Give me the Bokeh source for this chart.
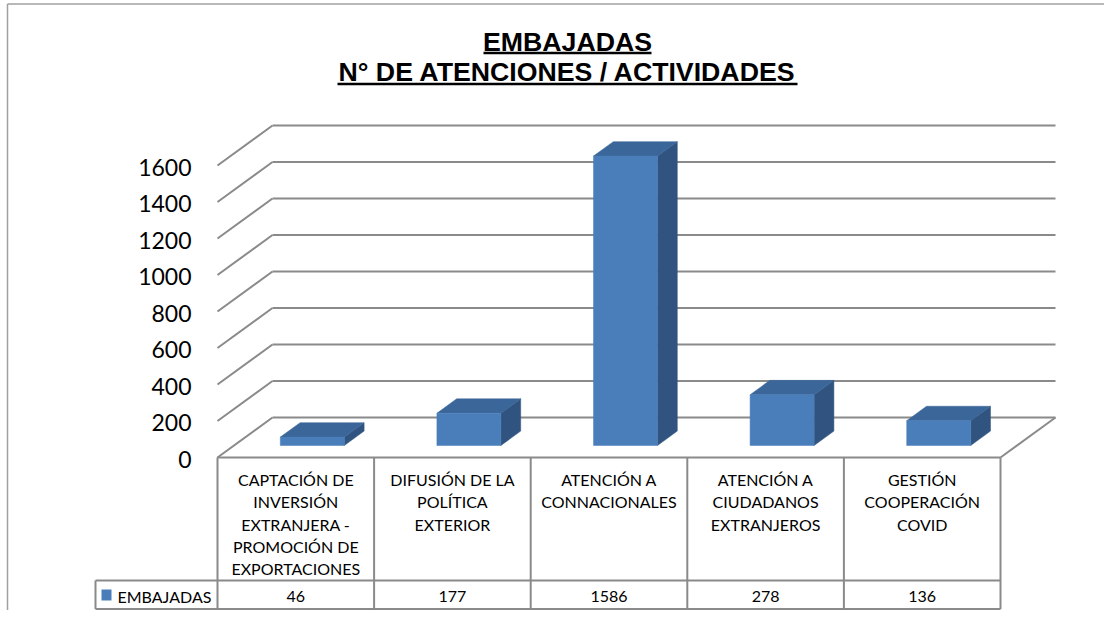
import numpy as np
from bokeh.plotting import figure
from bokeh.models import Range1d
from bokeh.embed import file_html
from bokeh.resources import INLINE
from bokeh.core.properties import value

# ---------------- data ----------------
title_lines = ["EMBAJADAS", "N° DE ATENCIONES / ACTIVIDADES"]
categories = [
    "CAPTACIÓN DE\nINVERSIÓN\nEXTRANJERA -\nPROMOCIÓN DE\nEXPORTACIONES",
    "DIFUSIÓN DE LA\nPOLÍTICA\nEXTERIOR",
    "ATENCIÓN A\nCONNACIONALES",
    "ATENCIÓN A\nCIUDADANOS\nEXTRANJEROS",
    "GESTIÓN\nCOOPERACIÓN\nCOVID",
]
series_name = "EMBAJADAS"
values = [46, 177, 1586, 278, 136]
y_ticks = [0, 200, 400, 600, 800, 1000, 1200, 1400, 1600]

# ---------------- layout (picture pixels -> data units) ----------------
FLOOR_L = 217.0      # x of first category boundary
COL_W = 156.6        # px per category
ZERO_Y = 457.0       # y of value 0 (front plane)
PX_PER_UNIT = 0.1825 # px per value unit
DEPTH_DX = 55.0
DEPTH_DY = 40.0
F0, F1 = 0.30, 0.66  # bar depth fractions
BAR_HALF_PX = 32.0


def X(px):
    return (px - FLOOR_L) / COL_W - 0.5


def Y(py):
    return (ZERO_Y - py) / PX_PER_UNIT


DX = DEPTH_DX / COL_W
DY = DEPTH_DY / PX_PER_UNIT
HW = BAR_HALF_PX / COL_W
n = len(values)
left_edge, right_edge = -0.5, n - 0.5

W, H = 1104, 610
p = figure(width=W, height=H, output_backend="svg", toolbar_location=None,
           x_range=Range1d(X(0), X(W)), y_range=Range1d(Y(H), Y(0)),
           x_axis_type=None, y_axis_type=None,
           min_border=0, min_border_left=0, min_border_right=0,
           min_border_top=0, min_border_bottom=0)
p.grid.visible = False
p.outline_line_color = None
p.background_fill_color = "white"
p.border_fill_color = "white"

GRID_C = "#8a8a8a"
TABLE_C = "#8a8a8a"

# outer frame (left and top)
p.segment(x0=[X(7), X(7)], y0=[Y(3.5), Y(3.5)], x1=[X(7), X(W)], y1=[Y(H), Y(3.5)],
          line_color="#a0a0a0", line_width=1.5)

# back wall gridlines
p.multi_line(xs=[[left_edge + DX, right_edge + DX] for t in y_ticks],
             ys=[[t + DY, t + DY] for t in y_ticks], line_color=GRID_C, line_width=2)
# left wall diagonals
p.multi_line(xs=[[left_edge, left_edge + DX] for t in y_ticks],
             ys=[[t, t + DY] for t in y_ticks], line_color=GRID_C, line_width=2)
# floor right edge
p.multi_line(xs=[[right_edge, right_edge + DX]], ys=[[0, DY]], line_color=GRID_C, line_width=2)

# bars
fx, fy, tx, ty, sx, sy = [], [], [], [], [], []
for i, v in enumerate(values):
    L = i - HW + F0 * DX
    R = i + HW + F0 * DX
    L1 = i - HW + F1 * DX
    R1 = i + HW + F1 * DX
    b0, b1 = F0 * DY, F1 * DY
    fx.append([L, R, R, L]); fy.append([b0, b0, v + b0, v + b0])
    tx.append([L, R, R1, L1]); ty.append([v + b0, v + b0, v + b1, v + b1])
    sx.append([R, R1, R1, R]); sy.append([b0, b1, v + b1, v + b0])
p.patches(xs=sx, ys=sy, fill_color="#30547f", line_color="#30547f", line_width=0.5)
p.patches(xs=tx, ys=ty, fill_color="#3b6699", line_color="#3b6699", line_width=0.5)
p.patches(xs=fx, ys=fy, fill_color="#4a7ebb", line_color="#4a7ebb", line_width=0.5)

# y tick labels
p.text(x=[X(191)] * len(y_ticks), y=[t + Y(ZERO_Y + 1.5) for t in y_ticks],
       text=[str(t) for t in y_ticks], text_align="right", text_baseline="middle",
       text_font=value("Lato"), text_font_size="23px", text_color="#000000")

# data table lines
bounds = [i - 0.5 for i in range(n + 1)]
ROW_TOP, ROW_MID, ROW_BOT, LEG_L = 457, 580, 608.5, 95
x0s = [left_edge, X(LEG_L), X(LEG_L)] + bounds + [X(LEG_L)]
x1s = [right_edge, right_edge, right_edge] + bounds + [X(LEG_L)]
y0s = [Y(ROW_TOP), Y(ROW_MID), Y(ROW_BOT)] + [Y(ROW_TOP)] * (n + 1) + [Y(ROW_MID)]
y1s = [Y(ROW_TOP), Y(ROW_MID), Y(ROW_BOT)] + [Y(ROW_BOT)] * (n + 1) + [Y(ROW_BOT)]
p.segment(x0=x0s, y0=y0s, x1=x1s, y1=y1s, line_color=TABLE_C, line_width=2)

# category labels
lx, ly, lt = [], [], []
for i, c in enumerate(categories):
    for k, line in enumerate(c.split("\n")):
        lx.append(i); ly.append(Y(479 + k * 22.3)); lt.append(line)
p.text(x=lx, y=ly, text=lt, text_align="center", text_baseline="middle",
       text_font=value("Lato"), text_font_size="16px", text_color="#000000")

# values row
p.text(x=list(range(n)), y=[Y(596)] * n, text=[str(v) for v in values],
       text_align="center", text_baseline="middle",
       text_font=value("Lato"), text_font_size="16px", text_color="#000000")

# legend key
p.quad(left=[X(101)], right=[X(111)], top=[Y(589)], bottom=[Y(600)],
       fill_color="#4a7ebb", line_color=None)
p.text(x=[X(117)], y=[Y(596)], text=[series_name], text_align="left",
       text_baseline="middle", text_font=value("Lato"), text_font_size="16px",
       text_color="#000000")

# title
p.text(x=[X(567), X(567)], y=[Y(41), Y(71)], text=title_lines,
       text_align="center", text_baseline="middle",
       text_font=value("Liberation Sans"), text_font_style="bold",
       text_font_size="26.7px", text_color="#000000")
p.segment(x0=[X(483), X(337)], y0=[Y(52.5), Y(83.5)], x1=[X(651), X(797)], y1=[Y(52.5), Y(83.5)],
          line_color="#000000", line_width=2.5)

open("out.html", "w").write(file_html(p, INLINE))
